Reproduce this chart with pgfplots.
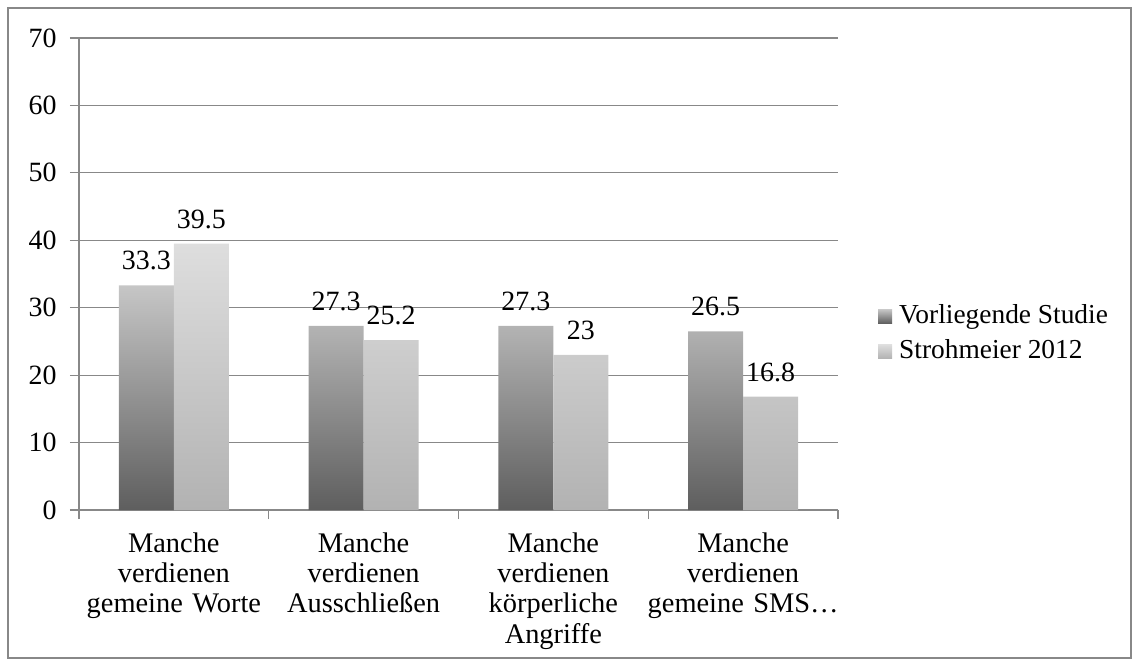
\documentclass[border=0pt]{standalone}
\usepackage{pgfplots}
\pgfplotsset{compat=1.18}
\usepackage{fontspec}
\setmainfont{Liberation Serif}
\definecolor{gridc}{RGB}{136,136,136}
\definecolor{aTop}{RGB}{198,198,198}
\definecolor{aBot}{RGB}{94,94,94}
\definecolor{bTop}{RGB}{222,222,222}
\definecolor{bBot}{RGB}{178,178,178}
\begin{document}
\fontsize{28}{33}\selectfont
\begin{tikzpicture}
\useasboundingbox (-79bp,-156bp) rectangle (1060bp,510bp);
\draw[gridc,line width=1.2bp] (-71bp,-148bp) rectangle (1052bp,502bp);
\begin{axis}[
  at={(0,0)}, anchor=south west,
  scale only axis, width=759bp, height=472bp,
  ybar=0pt, bar width=55bp,
  xmin=-0.5, xmax=3.5, ymin=0, ymax=70,
  ytick={0,10,20,30,40,50,60,70},
  xtick={0,1,2,3},
  xticklabels={{Manche\\verdienen\\gemeine Worte},{Manche\\verdienen\\Ausschließen},{Manche\\verdienen\\körperliche\\Angriffe},{Manche\\verdienen\\gemeine SMS\ldots}},
  xticklabel style={align=center, text width=205bp, font=\fontsize{28.5}{30.5}\selectfont, yshift=-4bp},
  minor xtick={-0.5,0.5,1.5,2.5,3.5},
  major x tick style={draw=none},
  minor tick length=9bp, major tick length=9bp,
  tick align=outside,
  tick style={gridc, line width=1.2bp},
  axis x line*=bottom, axis y line*=left,
  axis line style={gridc, line width=1.2bp},
  ymajorgrids, grid style={gridc, line width=1.2bp},
  /pgf/number format/assume math mode=true,
  yticklabel style={font=\fontsize{28}{33}\selectfont, xshift=-4bp},
  nodes near coords,
  every node near coord/.append style={font=\fontsize{28}{33}\selectfont, black, inner sep=4bp, yshift=11bp},
  point meta=explicit symbolic,
  legend style={at={(1.0527,0.373)}, anchor=west, draw=none, fill=none,
     font=\fontsize{27.5}{32}\selectfont, row sep=8bp, inner sep=0pt,
     legend cell align=left,
     /tikz/every even column/.append style={column sep=0bp}},
  legend image code/.code={\path[#1] (0bp,-7bp) rectangle (14bp,7bp);},
]
\addplot[draw=none, top color=aTop, bottom color=aBot] coordinates {(0,33.3)[33.3] (1,27.3)[27.3] (2,27.3)[27.3] (3,26.5)[26.5]};
\addplot[draw=none, top color=bTop, bottom color=bBot] coordinates {(0,39.5)[39.5] (1,25.2)[25.2] (2,23)[23] (3,16.8)[16.8]};
\legend{\hspace{5bp}Vorliegende Studie, \hspace{5bp}Strohmeier 2012}
\end{axis}
\end{tikzpicture}
\end{document}
